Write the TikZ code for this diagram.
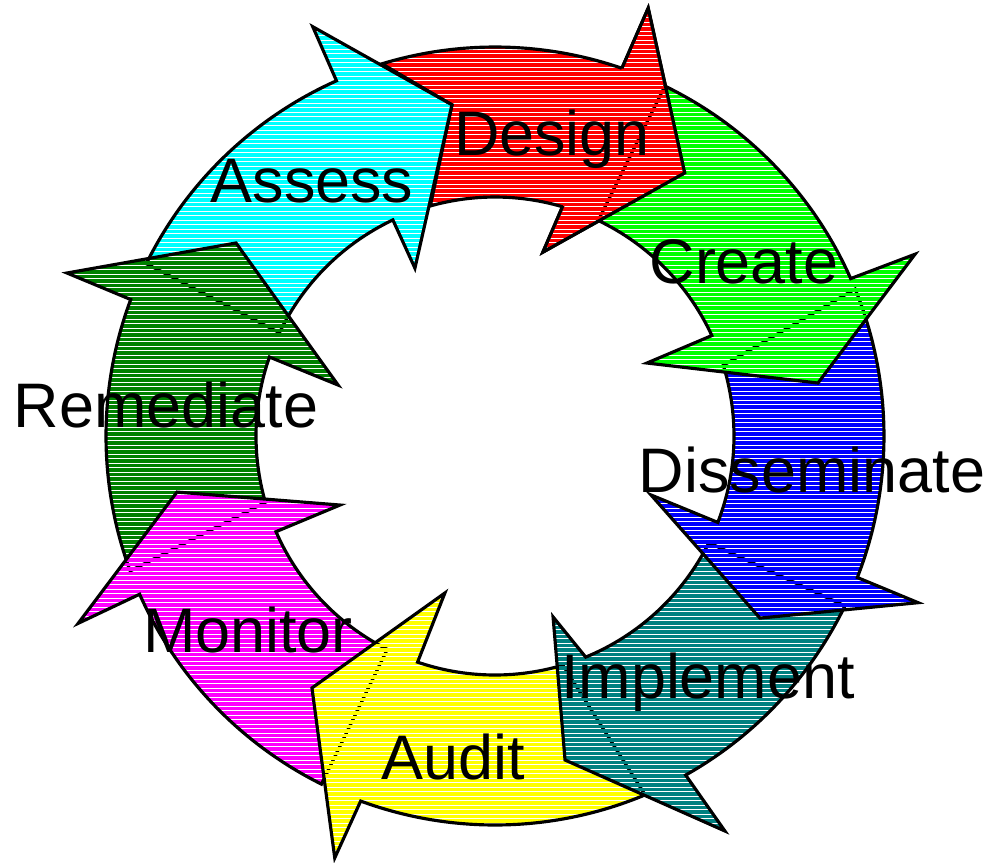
\documentclass[tikz,border=0pt]{standalone}
\usepackage{fontspec}
\setmainfont{Liberation Sans}
\definecolor{darkgreen}{RGB}{0,128,0}
\definecolor{aqua}{RGB}{0,255,255}
\definecolor{fuchsia}{RGB}{255,0,255}
\definecolor{lemon}{RGB}{255,255,0}
\definecolor{darkteal}{RGB}{0,128,128}
\newcommand{\ringout}{3.89}
\newcommand{\ringin}{2.39}
\tikzset {
    edge/.style = {line width = 0.9pt},
    hatch/.style = {line width = 1pt, draw = #1},
    stage/.style = {font = \fontsize{17.9}{20}\selectfont, anchor = base, inner sep = 0pt}
}
% horizontal hatching clipped to a closed path, gaps left open
\newcommand{\hatchin}[2]{
    \begin{scope}
        \clip #2;
        \foreach \y in {-4.30, -4.255, ..., 4.40}
            \draw [hatch = #1] (-5, \y) -- (5.2, \y);
    \end{scope}
}
\newcommand{\piece}[2]{
    \hatchin{#1}{#2}
    \draw [edge] #2;
}

\begin{document}
\begin{tikzpicture}
    \useasboundingbox (-4.95, -4.26) rectangle (5.09, 4.36);
    % design, its tail runs along the assess head
    \piece{red}{(106.9:\ringout) arc [start angle = 106.9, end angle = 70.96, radius = \ringout]
        -- (70.3:4.545) -- (54.2:3.244) -- (75.4:1.90)
        -- (73.6:\ringin) arc [start angle = 73.6, end angle = 105.7, radius = \ringin] -- (97.4:3.34) -- cycle}
    \piece{aqua}{(153.7:\ringout) arc [start angle = 153.7, end angle = 114.05, radius = \ringout]
        -- (114.0:4.48) -- (97.4:3.34) -- (115.5:1.86)
        -- (115.3:\ringin) arc [start angle = 115.3, end angle = 154.4, radius = \ringin] -- cycle}
    \piece{darkgreen}{(200.3:\ringout) arc [start angle = 200.3, end angle = 159.46, radius = \ringout]
        -- (159.15:4.58) -- (143.3:3.23) -- (162.0:1.65)
        -- (160.7:\ringin) arc [start angle = 160.7, end angle = 196.1, radius = \ringin] -- cycle}
    \piece{fuchsia}{(-116.5:\ringout) arc [start angle = -116.5, end angle = -156.0, radius = \ringout]
        -- (-155.8:4.57) -- (-170.0:3.229) -- (-156.0:1.697)
        -- (-156.4:\ringin) arc [start angle = -156.4, end angle = -116.8, radius = \ringin] -- cycle}
    \piece{lemon}{(-67.3:\ringout) arc [start angle = -67.3, end angle = -110.2, radius = \ringout]
        -- (-110.8:4.513) -- (-126.0:3.114) -- (-107.7:1.648)
        -- (-108.9:\ringin) arc [start angle = -108.9, end angle = -73.5, radius = \ringin] -- cycle}
    \piece{darkteal}{(-25.9:\ringout) arc [start angle = -25.9, end angle = -60.65, radius = \ringout]
        -- (-59.8:4.57) -- (-77.8:3.315) -- (-72.2:1.90)
        -- (-67.7:\ringin) arc [start angle = -67.7, end angle = -26.5, radius = \ringin] -- cycle}
    \piece{blue}{(22.2:\ringout) arc [start angle = 22.2, end angle = -21.33, radius = \ringout]
        -- (-21.5:4.548) -- (-34.5:3.215) -- (-20.7:1.668)
        -- (-21.2:\ringin) arc [start angle = -21.2, end angle = 17.2, radius = \ringin] -- cycle}
    \piece{green}{(64.1:\ringout) arc [start angle = 64.1, end angle = 23.87, radius = \ringout]
        -- (23.4:4.577) -- (9.32:3.273) -- (25.65:1.686)
        -- (24.86:\ringin) arc [start angle = 24.86, end angle = 64.4, radius = \ringin] -- cycle}
    % design head again, over the create tail
    \hatchin{red}{(70.96:\ringout) -- (70.3:4.545) -- (54.2:3.244) -- (75.4:1.90) -- (73.6:\ringin) -- cycle}
    \draw [edge] (70.96:\ringout) -- (70.3:4.545) -- (54.2:3.244) -- (75.4:1.90) -- (73.6:\ringin);
    \node (design) [stage] at (0.57, 2.81) {Design};
    \node (create) [stage] at (2.49, 1.53) {Create};
    \node (disseminate) [stage] at (3.17, -0.56) {Disseminate};
    \node (implement) [stage] at (2.13, -2.62) {Implement};
    \node (audit) [stage] at (-0.42, -3.43) {Audit};
    \node (monitor) [stage] at (-2.47, -2.16) {Monitor};
    \node (remediate) [stage] at (-3.29, 0.09) {Remediate};
    \node (assess) [stage] at (-1.83, 2.34) {Assess};
\end{tikzpicture}
\end{document}
